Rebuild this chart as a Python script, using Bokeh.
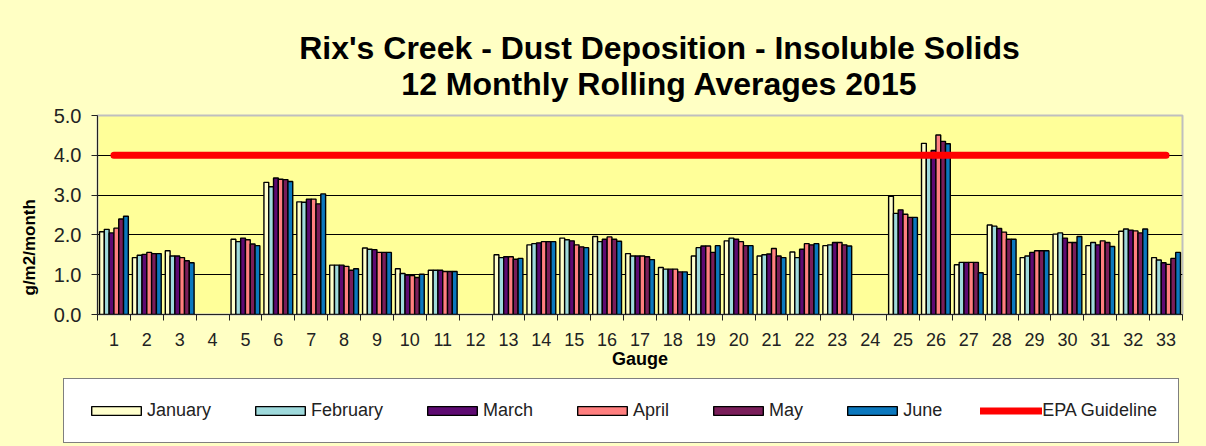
from bokeh.plotting import figure
from bokeh.layouts import column
from bokeh.models import (ColumnDataSource, FixedTicker, Legend, LegendItem, Title, Label,
                          Range1d, NumeralTickFormatter)
from bokeh.transform import dodge
from bokeh.embed import file_html
from bokeh.resources import INLINE

nan = float("nan")

gauges = list(range(1, 34))

january = [2.08, 1.43, 1.60, nan, 1.89, 3.32, 2.83, 1.24, 1.67, 1.15, 1.11, nan,
           1.50, 1.75, 1.92, 1.96, 1.53, 1.18, 1.47, 1.85, 1.47, 1.57, 1.73, nan,
           2.97, 4.30, 1.25, 2.25, 1.43, 2.02, 1.73, 2.09, 1.43]
february = [2.14, 1.49, 1.47, nan, 1.83, 3.21, 2.82, 1.24, 1.64, 1.03, 1.11, nan,
            1.43, 1.78, 1.88, 1.83, 1.47, 1.14, 1.68, 1.92, 1.50, 1.43, 1.75, nan,
            2.54, 4.05, 1.31, 2.22, 1.47, 2.05, 1.81, 2.15, 1.37]
march = [2.05, 1.51, 1.47, nan, 1.92, 3.43, 2.90, 1.24, 1.63, 0.99, 1.11, nan,
         1.45, 1.80, 1.85, 1.89, 1.47, 1.14, 1.72, 1.89, 1.52, 1.64, 1.81, nan,
         2.63, 4.12, 1.31, 2.16, 1.56, 1.92, 1.75, 2.12, 1.30]
april = [2.17, 1.56, 1.43, nan, 1.88, 3.40, 2.90, 1.21, 1.56, 0.98, 1.08, nan,
         1.45, 1.83, 1.75, 1.95, 1.47, 1.14, 1.72, 1.83, 1.66, 1.78, 1.81, nan,
         2.52, 4.51, 1.31, 2.07, 1.60, 1.81, 1.85, 2.10, 1.26]
may = [2.40, 1.53, 1.35, nan, 1.77, 3.39, 2.78, 1.11, 1.56, 0.93, 1.08, nan,
       1.39, 1.83, 1.70, 1.89, 1.45, 1.07, 1.56, 1.73, 1.47, 1.75, 1.75, nan,
       2.44, 4.35, 1.31, 1.89, 1.60, 1.81, 1.81, 2.05, 1.41]
june = [2.47, 1.53, 1.30, nan, 1.73, 3.34, 3.03, 1.15, 1.56, 1.01, 1.08, nan,
        1.41, 1.83, 1.68, 1.84, 1.38, 1.07, 1.73, 1.73, 1.43, 1.78, 1.72, nan,
        2.44, 4.29, 1.05, 1.89, 1.60, 1.96, 1.71, 2.15, 1.56]

months = ["January", "February", "March", "April", "May", "June"]
series = [january, february, march, april, may, june]
colors = ["#FFFFCC", "#9FDADC", "#5E0A72", "#FF7F7F", "#7A1E5A", "#0B78BE"]

epa_guideline = 4.0

title_lines = ["Rix's Creek - Dust Deposition - Insoluble Solids",
               "12 Monthly Rolling Averages 2015"]

FONT = "Liberation Sans"
OUTER = "#FFFFC4"
W = 1206
TOP_H = 102


def no_align(f):
    if "frame_align" in f.properties():
        f.frame_align = False
    return f


def blank(height):
    f = figure(width=W, height=height, output_backend="svg", toolbar_location=None,
               x_range=Range1d(0, W), y_range=Range1d(0, height),
               x_axis_type=None, y_axis_type=None, min_border=0)
    f.title.visible = False
    f.grid.visible = False
    f.outline_line_color = None
    f.border_fill_color = OUTER
    f.background_fill_color = OUTER
    return no_align(f)


src = ColumnDataSource(data=dict(gauge=gauges, **{m: s for m, s in zip(months, series)},
                                 epa=[epa_guideline] * len(gauges)))

# ---- title block ----
top = blank(TOP_H)
for txt, y in zip(title_lines, [TOP_H - 47, TOP_H - 83]):
    top.add_layout(Label(x=659, y=y, text=txt, text_align="center", text_baseline="middle",
                         text_font=FONT, text_font_size="32px", text_font_style="bold",
                         text_color="black"))

# ---- main chart ----
p = figure(width=W, height=270, output_backend="svg", toolbar_location=None,
           x_range=Range1d(0.5, 33.5), y_range=Range1d(0, 5),
           min_border_left=97, min_border_right=24, min_border_top=13, min_border_bottom=58)
no_align(p)
p.title.visible = False
p.border_fill_color = OUTER
p.background_fill_color = "#FFFF99"
p.outline_line_color = "#BFBFBF"
p.outline_line_width = 2

bw = 0.146
for i, (m, c) in enumerate(zip(months, colors)):
    p.vbar(x=dodge("gauge", (i - 2.5) * bw, range=p.x_range), top=m, width=bw,
           bottom=0, source=src, fill_color=c, line_color="black", line_width=1.4)

p.line(x="gauge", y="epa", source=src, line_color="#FF0000", line_width=7, line_cap="round")

p.xgrid.visible = False
p.ygrid.ticker = FixedTicker(ticks=[1, 2, 3, 4])
p.ygrid.grid_line_color = "black"
p.ygrid.grid_line_width = 1

p.yaxis.ticker = FixedTicker(ticks=[0, 1, 2, 3, 4, 5])
p.yaxis.formatter = NumeralTickFormatter(format="0.0")
p.yaxis.major_tick_out = 6
p.yaxis.major_tick_in = 0
p.yaxis.minor_tick_out = 0
p.yaxis.major_label_text_font = FONT
p.yaxis.major_label_text_font_size = "20px"
p.yaxis.major_label_text_color = "#222222"
p.yaxis.major_label_standoff = 10
p.yaxis.axis_line_color = "#222222"
p.yaxis.major_tick_line_color = "#222222"

p.xaxis.ticker = FixedTicker(ticks=gauges, minor_ticks=[g - 0.5 for g in gauges] + [gauges[-1] + 0.5])
p.xaxis.major_tick_out = 0
p.xaxis.major_tick_in = 0
p.xaxis.minor_tick_out = 6
p.xaxis.minor_tick_in = 0
p.xaxis.minor_tick_line_color = "#222222"
p.xaxis.axis_line_color = "#222222"
p.xaxis.major_label_text_font = FONT
p.xaxis.major_label_text_font_size = "18px"
p.xaxis.major_label_text_color = "#222222"
p.xaxis.major_label_standoff = 12
p.xaxis.axis_label = "Gauge"
p.xaxis.axis_label_text_font = FONT
p.xaxis.axis_label_text_font_size = "18px"
p.xaxis.axis_label_text_font_style = "bold"
p.xaxis.axis_label_text_color = "black"
p.xaxis.axis_label_standoff = 0

p.add_layout(Title(text="g/m2/month", align="left", offset=19, standoff=24,
                   text_font=FONT, text_font_size="17px", text_font_style="bold",
                   text_color="black"), "left")

# ---- legend block (hidden renderers only feed the legend swatches) ----
bot = blank(74)
items = []
for m, c in zip(months, colors):
    r = bot.vbar(x="gauge", top=m, width=0.1, source=src, fill_color=c,
                 line_color="black", line_width=1.4, visible=False)
    items.append(LegendItem(label=m, renderers=[r]))
r = bot.line(x="gauge", y="epa", source=src, line_color="#FF0000", line_width=7,
             line_cap="round", visible=False)
items.append(LegendItem(label="EPA Guideline", renderers=[r]))
legend = Legend(items=items, location=(63, 3), orientation="horizontal",
                border_line_color="black", border_line_width=1,
                background_fill_color="white", background_fill_alpha=1,
                label_text_font=FONT, label_text_font_size="18px",
                label_text_color="#222222",
                glyph_width=62, glyph_height=11, label_standoff=0,
                spacing=38, padding=21, margin=0, click_policy="none")
bot.add_layout(legend, "center")

layout = column(top, p, bot, spacing=0, styles={"background-color": OUTER})
open("out.html", "w").write(file_html(layout, INLINE))
